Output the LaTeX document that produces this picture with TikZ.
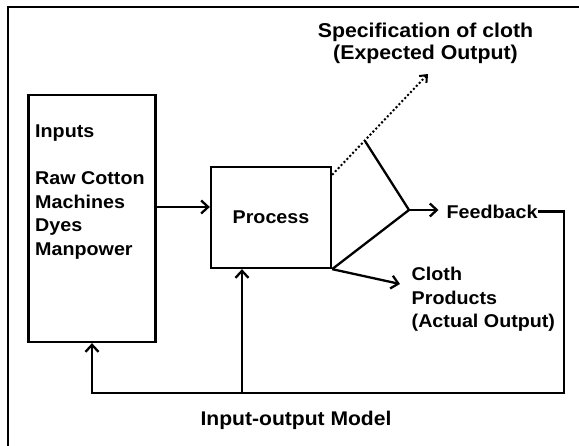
\documentclass[tikz,border=0pt]{standalone}
\usepackage{fontspec}
\setmainfont{Liberation Sans}[FakeStretch=1.065]
\usetikzlibrary{arrows.meta,calc,positioning}
\tikzset{
  wire/.style      = {line width=2.3pt},
  dotwire/.style   = {line width=2pt, dash pattern=on 2pt off 2.2pt},
  flow/.style      = {wire, -{Straight Barb[length=7pt,width=13pt]}},
  dotflow/.style   = {dotwire, -{Straight Barb[length=6pt,width=10pt]}},
  block/.style     = {draw, line width=2.3pt, inner sep=0pt},
  boxlabel/.style  = {font=\bfseries\fontsize{18.5}{23.5}\selectfont,
                      inner sep=0pt, align=left},
}

\begin{document}
\begin{tikzpicture}[
    x=1pt, y=-1pt,
    speclabel/.style  = {font=\bfseries\fontsize{20}{21.6}\selectfont,
                         inner sep=0pt, align=center},
    titlelabel/.style = {font=\bfseries\fontsize{19.8}{24}\selectfont,
                         inner sep=0pt},
  ]
  \useasboundingbox (0,0) rectangle (579,446);

  % outer frame, running off the right and bottom edges
  \draw[line width=2.6pt] (583,7) -| (8,450);

  % =======================================================================
  %  Inputs and process
  % =======================================================================
  \node[block,minimum width=127pt,minimum height=247pt] (inputs) at (92,218.5) {};
  \node[boxlabel,anchor=north west] (inputs text) at (35,125)
        {Inputs\\[23.5pt]Raw Cotton\\Machines\\Dyes\\Manpower};

  \node[block,minimum width=120pt,minimum height=101pt,
        font=\bfseries\fontsize{18.5}{23.5}\selectfont] (process) at (271,217.5) {Process};

  \draw[flow] ([yshift=11.5pt]inputs.east) coordinate (in out) -- (in out -| process.west);

  % ---- outputs ------------------------------------------------------------
  \node[speclabel,anchor=north] (spec) at (425.5,23.3)
        {Specification of cloth\\(Expected Output)};
  \coordinate (spec tip) at (428,74);
  \draw[dotflow] ([yshift=-9pt]process.north east) -- (spec tip);

  \coordinate (fork top) at (365,141);
  \coordinate (fork) at (409,210);
  \draw[wire] (fork top) -- (fork) -- (process.south east);

  \node[boxlabel,anchor=west] (feedback) at (446.5,211.5) {Feedback};
  \draw[flow,shorten >=8pt] (fork) -- (fork -| feedback.west);

  \node[boxlabel,anchor=north west] (cloth) at (411.5,267)
        {Cloth\\Products\\(Actual Output)};
  \coordinate (cloth tip) at (400,284);
  \draw[flow] (process.south east) -- (cloth tip);

  % ---- feedback loop back to inputs and process ---------------------------
  \coordinate (loop right) at (564,393);
  \coordinate (branch) at (242,393);
  \draw[flow] (feedback.east) -| (loop right) -| (inputs.south);
  \draw[flow] (branch) -- (branch |- process.south);

  \node[titlelabel,anchor=base] (model) at (296,426) {Input-output Model};
\end{tikzpicture}
\end{document}
